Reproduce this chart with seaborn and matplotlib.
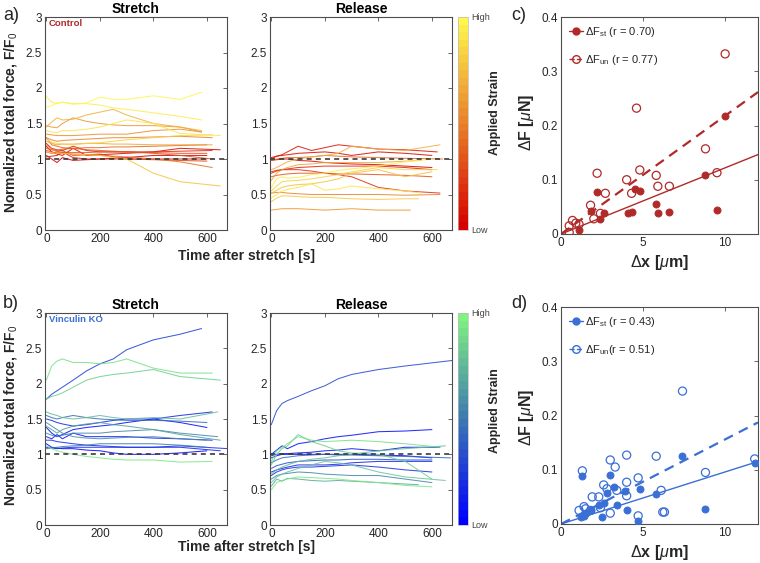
import numpy as np
import pandas as pd
import matplotlib
matplotlib.use("Agg")
import matplotlib.pyplot as plt
from matplotlib.colors import LinearSegmentedColormap, Normalize
from matplotlib.cm import ScalarMappable
from matplotlib.lines import Line2D
from matplotlib.ticker import FuncFormatter
import seaborn as sns

# ---- data ----
# time points shared by all traces; the last sample of each trace is at its own end time
t_grid = [0, 20, 40, 60, 100, 150, 200, 250, 300, 400, 500]

# Control, stretch
ctrl_st_strain = [1.0, 0.95, 0.7, 0.6, 0.9, 0.55, 0.5, 0.85, 0.65, 0.15, 0.05, 0.0, 0.35, 0.45, 0.75, 0.25, 0.4, 0.3, 0.1]
ctrl_st_end = [580, 580, 580, 580, 650, 580, 620, 620, 620, 620, 650, 600, 620, 620, 650, 600, 600, 600, 600]
ctrl_st_vals = [
    [1.73, 1.75, 1.79, 1.80, 1.77, 1.79, 1.87, 1.84, 1.84, 1.89, 1.84, 1.94],
    [1.88, 1.80, 1.78, 1.80, 1.78, 1.78, 1.76, 1.72, 1.70, 1.65, 1.60, 1.55],
    [1.45, 1.52, 1.58, 1.55, 1.56, 1.62, 1.66, 1.70, 1.62, 1.50, 1.45, 1.40],
    [1.47, 1.45, 1.44, 1.50, 1.58, 1.53, 1.50, 1.48, 1.47, 1.47, 1.45, 1.38],
    [1.40, 1.38, 1.37, 1.40, 1.40, 1.42, 1.45, 1.50, 1.55, 1.50, 1.36, 1.33],
    [1.35, 1.34, 1.33, 1.33, 1.33, 1.34, 1.35, 1.35, 1.35, 1.40, 1.42, 1.38],
    [1.30, 1.27, 1.25, 1.26, 1.27, 1.28, 1.29, 1.30, 1.30, 1.31, 1.32, 1.30],
    [1.28, 1.24, 1.22, 1.21, 1.20, 1.22, 1.23, 1.25, 1.27, 1.30, 1.33, 1.34],
    [1.25, 1.22, 1.20, 1.21, 1.21, 1.22, 1.22, 1.21, 1.21, 1.20, 1.20, 1.20],
    [1.22, 1.15, 1.13, 1.12, 1.18, 1.12, 1.10, 1.10, 1.10, 1.10, 1.11, 1.12],
    [1.18, 1.10, 1.07, 1.05, 1.15, 1.05, 1.06, 1.07, 1.08, 1.10, 1.15, 1.13],
    [1.05, 1.00, 0.95, 1.02, 0.98, 0.99, 1.00, 1.01, 1.02, 1.05, 1.05, 1.05],
    [1.15, 1.13, 1.12, 1.14, 1.15, 1.13, 1.12, 1.11, 1.10, 1.08, 1.05, 1.00],
    [1.20, 1.14, 1.10, 1.08, 1.07, 1.06, 1.05, 1.04, 1.03, 1.00, 0.96, 0.88],
    [1.10, 1.09, 1.08, 1.08, 1.07, 1.06, 1.05, 1.02, 1.00, 0.80, 0.68, 0.62],
    [1.10, 1.08, 1.10, 1.12, 1.05, 1.06, 1.07, 1.03, 1.00, 0.99, 0.98, 0.97],
    [1.30, 1.20, 1.18, 1.16, 1.15, 1.16, 1.16, 1.17, 1.17, 1.18, 1.19, 1.20],
    [1.12, 1.10, 1.08, 1.09, 1.09, 1.09, 1.10, 1.10, 1.10, 1.09, 1.08, 1.08],
    [1.03, 1.04, 1.05, 1.10, 1.02, 1.00, 1.00, 1.00, 1.00, 1.00, 1.00, 1.00],
]

# Control, release
ctrl_rel_strain = [0.1, 0.05, 0.7, 0.0, 0.15, 0.2, 0.35, 0.95, 0.85, 0.75, 0.9, 0.5, 0.8, 0.6, 0.4, 0.65]
ctrl_rel_end = [620, 600, 630, 600, 600, 630, 600, 600, 620, 600, 560, 630, 550, 520, 640, 560]
ctrl_rel_vals = [
    [1.00, 1.04, 1.06, 1.10, 1.18, 1.12, 1.16, 1.20, 1.18, 1.14, 1.13, 1.10],
    [1.02, 1.04, 1.05, 1.06, 1.08, 1.09, 1.10, 1.08, 1.05, 1.10, 1.08, 1.05],
    [0.85, 0.88, 0.92, 0.96, 1.00, 1.03, 1.05, 1.08, 1.18, 1.14, 1.12, 1.20],
    [0.98, 0.99, 1.00, 1.00, 0.98, 0.97, 0.95, 0.94, 0.93, 0.92, 0.90, 0.88],
    [0.82, 0.84, 0.85, 0.86, 0.88, 0.89, 0.90, 0.90, 0.90, 0.90, 0.88, 0.85],
    [0.80, 0.83, 0.85, 0.85, 0.85, 0.83, 0.80, 0.78, 0.75, 0.60, 0.55, 0.52],
    [0.75, 0.77, 0.78, 0.79, 0.80, 0.80, 0.80, 0.79, 0.79, 0.78, 0.77, 0.75],
    [0.60, 0.72, 0.75, 0.73, 0.74, 0.78, 0.80, 0.84, 0.86, 0.90, 0.96, 1.00],
    [0.55, 0.62, 0.68, 0.69, 0.70, 0.72, 0.75, 0.78, 0.82, 0.88, 0.85, 0.85],
    [0.52, 0.56, 0.60, 0.62, 0.64, 0.65, 0.68, 0.72, 0.80, 0.85, 0.75, 0.82],
    [0.45, 0.50, 0.55, 0.57, 0.60, 0.65, 0.56, 0.58, 0.62, 0.58, 0.55, 0.52],
    [0.52, 0.53, 0.53, 0.52, 0.51, 0.50, 0.50, 0.50, 0.50, 0.50, 0.49, 0.50],
    [0.40, 0.45, 0.48, 0.48, 0.47, 0.46, 0.46, 0.45, 0.44, 0.43, 0.44, 0.44],
    [0.28, 0.29, 0.30, 0.30, 0.30, 0.29, 0.28, 0.29, 0.30, 0.28, 0.28, 0.28],
    [0.98, 1.00, 1.01, 1.02, 1.02, 1.03, 1.05, 1.04, 1.03, 1.02, 1.01, 1.00],
    [0.70, 0.80, 0.85, 0.88, 0.92, 0.93, 0.95, 0.95, 0.95, 0.95, 0.97, 0.98],
]

# Vinculin KO, stretch
ko_st_strain = [0.25, 0.9, 0.85, 0.75, 0.15, 0.45, 0.05, 0.65, 0.55, 0.1, 0.2, 0.0, 0.95, 0.5, 0.15, 0.6]
ko_st_end = [580, 620, 650, 640, 620, 600, 600, 650, 640, 620, 680, 600, 620, 600, 650, 600]
ko_st_vals = [
    [1.78, 1.85, 1.90, 1.95, 2.05, 2.18, 2.28, 2.35, 2.48, 2.62, 2.70, 2.78],
    [2.05, 2.25, 2.32, 2.35, 2.30, 2.30, 2.28, 2.30, 2.35, 2.22, 2.15, 2.15],
    [1.78, 1.82, 1.84, 1.87, 1.95, 2.05, 2.10, 2.13, 2.15, 2.20, 2.10, 2.05],
    [1.60, 1.57, 1.55, 1.52, 1.50, 1.52, 1.55, 1.52, 1.50, 1.52, 1.50, 1.60],
    [1.50, 1.48, 1.45, 1.43, 1.40, 1.42, 1.45, 1.48, 1.50, 1.50, 1.55, 1.60],
    [1.55, 1.52, 1.50, 1.52, 1.55, 1.52, 1.50, 1.49, 1.48, 1.48, 1.47, 1.45],
    [1.38, 1.30, 1.25, 1.28, 1.35, 1.38, 1.40, 1.42, 1.45, 1.50, 1.45, 1.38],
    [1.40, 1.35, 1.30, 1.35, 1.40, 1.43, 1.45, 1.42, 1.40, 1.35, 1.28, 1.20],
    [1.30, 1.27, 1.25, 1.27, 1.30, 1.30, 1.30, 1.32, 1.33, 1.35, 1.30, 1.25],
    [1.25, 1.22, 1.28, 1.22, 1.30, 1.25, 1.25, 1.25, 1.25, 1.23, 1.22, 1.20],
    [1.20, 1.20, 1.18, 1.17, 1.15, 1.13, 1.12, 1.11, 1.10, 1.10, 1.12, 1.08],
    [1.15, 1.10, 1.09, 1.08, 1.08, 1.06, 1.05, 1.02, 1.00, 1.00, 1.02, 1.05],
    [1.12, 1.08, 1.05, 1.03, 1.00, 0.97, 0.95, 0.93, 0.92, 0.92, 0.89, 0.90],
    [1.08, 1.09, 1.10, 1.11, 1.12, 1.13, 1.15, 1.15, 1.15, 1.15, 1.13, 1.10],
    [1.10, 1.09, 1.08, 1.09, 1.10, 1.10, 1.10, 1.10, 1.10, 1.10, 1.10, 1.05],
    [1.45, 1.40, 1.35, 1.30, 1.25, 1.23, 1.22, 1.23, 1.24, 1.25, 1.22, 1.20],
]

# Vinculin KO, release
ko_rel_strain = [0.3, 0.05, 0.9, 0.85, 0.1, 0.0, 0.45, 0.15, 0.2, 0.8, 0.55, 0.95, 0.7, 0.35, 0.75]
ko_rel_end = [680, 600, 630, 600, 630, 600, 670, 600, 600, 650, 600, 600, 550, 600, 650]
ko_rel_vals = [
    [1.42, 1.62, 1.72, 1.76, 1.82, 1.90, 1.97, 2.07, 2.13, 2.20, 2.25, 2.33],
    [1.00, 1.06, 1.12, 1.08, 1.15, 1.18, 1.22, 1.25, 1.27, 1.32, 1.33, 1.35],
    [0.90, 1.05, 1.10, 1.15, 1.25, 1.20, 1.18, 1.19, 1.20, 1.18, 1.15, 1.10],
    [0.85, 1.00, 1.08, 1.12, 1.28, 1.18, 1.12, 1.05, 1.02, 1.00, 0.90, 0.65],
    [0.98, 1.00, 1.01, 1.01, 1.02, 1.03, 1.05, 1.06, 1.08, 1.05, 1.10, 1.10],
    [0.95, 0.98, 1.00, 1.00, 1.00, 1.00, 1.00, 1.00, 1.00, 0.99, 0.98, 0.95],
    [0.88, 0.92, 0.95, 0.96, 0.98, 0.99, 1.00, 0.99, 0.99, 0.98, 0.97, 0.95],
    [0.75, 0.78, 0.80, 0.82, 0.85, 0.85, 0.85, 0.86, 0.88, 0.90, 0.90, 0.90],
    [0.70, 0.75, 0.78, 0.80, 0.82, 0.82, 0.83, 0.84, 0.85, 0.82, 0.78, 0.75],
    [0.60, 0.68, 0.72, 0.75, 0.80, 0.85, 0.90, 0.88, 0.85, 0.75, 0.68, 0.63],
    [0.65, 0.70, 0.72, 0.73, 0.75, 0.74, 0.72, 0.71, 0.70, 0.70, 0.65, 0.60],
    [0.50, 0.60, 0.63, 0.65, 0.68, 0.67, 0.66, 0.65, 0.63, 0.60, 0.56, 0.54],
    [0.55, 0.65, 0.62, 0.66, 0.65, 0.63, 0.62, 0.63, 0.62, 0.60, 0.58, 0.57],
    [0.80, 0.84, 0.86, 0.88, 0.90, 0.91, 0.92, 0.92, 0.93, 0.93, 0.92, 0.92],
    [0.72, 0.78, 0.82, 0.85, 0.90, 0.93, 0.95, 0.98, 1.00, 1.05, 1.08, 1.12],
]

# scatter c (control)
c_st_dx = [1.1, 1.8, 2.2, 2.4, 2.6, 4.1, 4.3, 4.5, 4.8, 5.8, 5.9, 6.6, 8.8, 9.5, 10.0]
c_st_df = [0.008, 0.043, 0.078, 0.028, 0.038, 0.038, 0.040, 0.083, 0.080, 0.056, 0.038, 0.040, 0.108, 0.045, 0.217]
c_un_dx = [0.5, 0.5, 0.7, 0.9, 1.1, 1.8, 2.0, 2.2, 2.4, 2.7, 4.0, 4.3, 4.6, 4.8, 5.8, 5.9, 6.6, 8.8, 9.5, 10.0]
c_un_df = [0.003, 0.015, 0.025, 0.020, 0.018, 0.053, 0.028, 0.112, 0.038, 0.075, 0.100, 0.075, 0.232, 0.118, 0.108, 0.088, 0.088, 0.157, 0.113, 0.332]
c_slope_st, c_slope_un = 0.0122, 0.0218
c_labels = [r"$\Delta$F$_{\rm st}$ (r = 0.70)", r"$\Delta$F$_{\rm un}$ (r = 0.77)"]

# scatter d (vinculin KO)
d_st_dx = [1.2, 1.3, 1.4, 1.5, 1.8, 2.3, 2.5, 2.6, 2.8, 3.0, 3.2, 3.4, 3.9, 4.0, 4.7, 4.8, 5.8, 7.4, 8.8, 11.8]
d_st_df = [0.013, 0.088, 0.015, 0.020, 0.025, 0.035, 0.012, 0.038, 0.058, 0.090, 0.068, 0.035, 0.060, 0.025, 0.006, 0.065, 0.055, 0.125, 0.028, 0.113]
d_un_dx = [1.1, 1.3, 1.4, 1.5, 1.8, 1.9, 2.3, 2.4, 2.6, 2.8, 3.0, 3.0, 3.3, 3.4, 4.0, 4.0, 4.0, 4.7, 4.7, 5.8, 6.1, 6.2, 6.3, 7.4, 8.8, 11.8]
d_un_df = [0.025, 0.098, 0.032, 0.028, 0.025, 0.050, 0.050, 0.030, 0.072, 0.065, 0.118, 0.020, 0.105, 0.062, 0.127, 0.077, 0.052, 0.015, 0.085, 0.125, 0.062, 0.022, 0.022, 0.245, 0.095, 0.120]
d_slope_st, d_slope_un = 0.0096, 0.0156
d_labels = [r"$\Delta$F$_{\rm st}$ (r = 0.43)", r"$\Delta$F$_{\rm un}$(r = 0.51)"]

# ---- style ----
sns.set_style("white")
plt.rcParams["font.family"] = ["Liberation Sans", "DejaVu Sans"]
plt.rcParams["mathtext.fontset"] = "custom"
plt.rcParams["mathtext.rm"] = "Liberation Sans"
plt.rcParams["mathtext.it"] = "Liberation Sans:italic"

TXT = "#262626"
red = "#b02a2a"
blue = "#3a6fd6"
cmap_ctrl = LinearSegmentedColormap.from_list("ctrl", ["#d60000", "#e8802a", "#fff64e"], N=28)
cmap_ko = LinearSegmentedColormap.from_list("ko", ["#0000ff", "#3c78b0", "#80f280"], N=28)

W, H = 760, 563
fig = plt.figure(figsize=(W / 100, H / 100), dpi=100)


def rect(l, t, r, b):
    return [l / W, 1 - b / H, (r - l) / W, (b - t) / H]


def fx(px):
    return px / W


def fy(py):
    return 1 - py / H


fmt = FuncFormatter(lambda v, p: f"{v:g}")


def style_axes(ax):
    for s in ax.spines.values():
        s.set_color("#4d4d4d")
        s.set_linewidth(0.8)
    ax.tick_params(direction="in", top=True, right=True, length=3, width=0.6,
                   labelsize=8.5, colors="#4d4d4d", labelcolor=TXT, pad=2)
    ax.set_xlabel("")
    ax.set_ylabel("")


def traces_df(strain, ends, vals):
    rows = []
    for i, (s, e, v) in enumerate(zip(strain, ends, vals)):
        for t, y in zip(t_grid + [e], v):
            rows.append({"line": i, "t": t, "F": y, "strain": s})
    return pd.DataFrame(rows)


def trace_panel(box, strain, ends, vals, cmap, title):
    ax = fig.add_axes(rect(*box))
    df = traces_df(strain, ends, vals)
    sns.lineplot(data=df, x="t", y="F", hue="strain", units="line", estimator=None,
                 palette=cmap, hue_norm=(0, 1), legend=False, lw=0.75, alpha=0.85,
                 sort=False, ax=ax)
    ax.axhline(1, ls=(0, (3, 2.5)), color="#3a3a3a", lw=1.2, zorder=5)
    ax.set_xlim(-5, 675)
    ax.set_ylim(0, 3)
    ax.set_xticks([0, 200, 400, 600])
    ax.set_yticks([0, 0.5, 1, 1.5, 2, 2.5, 3])
    ax.yaxis.set_major_formatter(fmt)
    ax.set_title(title, fontsize=10, fontweight="bold", pad=3, color="black")
    style_axes(ax)
    return ax


def colorbar(box, cmap, mid_y):
    cax = fig.add_axes(rect(*box))
    cb = fig.colorbar(ScalarMappable(norm=Normalize(0, 1), cmap=cmap), cax=cax)
    cb.set_ticks([])
    cb.outline.set_edgecolor("#bbbbbb")
    cb.outline.set_linewidth(0.5)
    l, t, r, b = box
    fig.text(fx(r + 3), fy(t), "High", fontsize=6.5, color="#444444", ha="left", va="center")
    fig.text(fx(r + 3), fy(b), "Low", fontsize=6.5, color="#444444", ha="left", va="center")
    fig.text(fx(495), fy(mid_y), "Applied Strain", rotation=90, fontsize=9,
             fontweight="bold", ha="center", va="center")


def scatter_panel(box, st_dx, st_df, un_dx, un_df, s_st, s_un, color, labels):
    ax = fig.add_axes(rect(*box))
    sns.scatterplot(x=st_dx, y=st_df, color=color, s=26, edgecolor=color, linewidth=0.6, ax=ax, zorder=3)
    sns.scatterplot(x=un_dx, y=un_df, s=34, facecolor="none", edgecolor=color, linewidth=0.9, ax=ax, zorder=3)
    xs = np.array([0, 12])
    ax.plot(xs, s_st * xs, color=color, lw=1.0)
    ax.plot(xs, s_un * xs, color=color, lw=1.6, ls=(0, (4.5, 3)))
    ax.set_xlim(0, 12)
    ax.set_ylim(0, 0.4)
    ax.set_xticks([0, 5, 10])
    ax.set_yticks([0, 0.1, 0.2, 0.3, 0.4])
    ax.yaxis.set_major_formatter(fmt)
    style_axes(ax)
    handles = [
        Line2D([0], [0], color=color, lw=1.0, marker="o", ms=5, mfc=color, mec=color),
        Line2D([0], [0], color=color, lw=1.0, ls="--", marker="o", ms=5.5, mfc="none", mec=color),
    ]
    ax.legend(handles, labels, loc="upper left", frameon=False, fontsize=8,
              handlelength=1.3, handletextpad=0.2, labelspacing=1.3,
              borderaxespad=0.3, bbox_to_anchor=(0.0, 1.0))
    return ax


# ---- panels ----
trace_panel((45, 17, 227, 230), ctrl_st_strain, ctrl_st_end, ctrl_st_vals, cmap_ctrl, "Stretch")
trace_panel((270, 17, 452, 230), ctrl_rel_strain, ctrl_rel_end, ctrl_rel_vals, cmap_ctrl, "Release")
colorbar((458, 17, 468, 230), cmap_ctrl, 113)
trace_panel((45, 313, 227, 525), ko_st_strain, ko_st_end, ko_st_vals, cmap_ko, "Stretch")
trace_panel((270, 313, 452, 525), ko_rel_strain, ko_rel_end, ko_rel_vals, cmap_ko, "Release")
colorbar((458, 313, 468, 525), cmap_ko, 411)

scatter_panel((561, 17, 758, 234), c_st_dx, c_st_df, c_un_dx, c_un_df,
              c_slope_st, c_slope_un, red, c_labels)
scatter_panel((561, 307, 758, 524), d_st_dx, d_st_df, d_un_dx, d_un_df,
              d_slope_st, d_slope_un, blue, d_labels)

# ---- text ----
fig.text(fx(49), fy(24), "Control", color=red, fontsize=6.8, fontweight="bold", va="center")
fig.text(fx(49), fy(320), "Vinculin KO", color=blue, fontsize=6.8, fontweight="bold", va="center")

for y in (122, 415):
    fig.text(fx(11), fy(y), "Normalized total force, F/F$_0$", rotation=90, fontsize=10,
             fontweight="bold", ha="center", va="center")
for y in (256, 547):
    fig.text(fx(246), fy(y), "Time after stretch [s]", fontsize=10, fontweight="bold",
             ha="center", va="center")
for y in (122, 417):
    fig.text(fx(527), fy(y), r"$\Delta$F [$\mu$N]", rotation=90, fontsize=11.5,
             fontweight="bold", ha="center", va="center")
for y in (263, 553):
    fig.text(fx(659), fy(y), r"$\Delta$x [$\mu$m]", fontsize=11.5, fontweight="bold",
             ha="center", va="center")

for lab, x, y in [("a)", 11, 15), ("b)", 11, 303), ("c)", 519, 15), ("d)", 519, 303)]:
    fig.text(fx(x), fy(y), lab, fontsize=13, ha="center", va="center")

fig.savefig("out.png", dpi=100)
